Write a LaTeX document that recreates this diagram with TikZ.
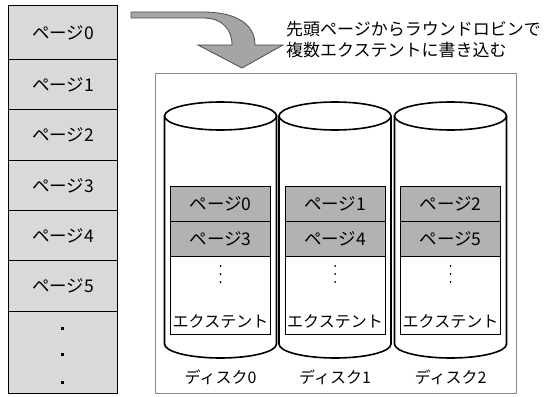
\documentclass[tikz,border=0pt]{standalone}
\usepackage{fontspec}
\setmainfont{Noto Sans CJK JP}
\begin{document}
\begin{tikzpicture}[x=1pt,y=-1pt,
  lbl/.style={font=\fontsize{16}{18}\selectfont, inner sep=0pt},
  captext/.style={font=\fontsize{17}{19}\selectfont, inner sep=0pt},
  pg/.style={lbl, font=\fontsize{17.5}{18}\selectfont},
  leftrow/.style={draw=black, line width=0.9pt, fill=leftgray, minimum width=109pt, inner sep=0pt, anchor=north west},
  extrow/.style={draw=black, line width=0.9pt, fill=extgray, minimum width=100pt, minimum height=35pt, inner sep=0pt, anchor=north},
  cyl/.style={draw=black, line width=1.6pt, fill=white},
  dotsq/.style={fill=black, minimum size=3pt, inner sep=0pt}
]
\definecolor{leftgray}{HTML}{D9D9D9}
\definecolor{extgray}{HTML}{B2B2B2}
\definecolor{arrgray}{HTML}{A5A5A5}
\definecolor{boxgray}{HTML}{8C8C8C}
\useasboundingbox (0,0) rectangle (545,396);

% left column
\node[leftrow, minimum height=54pt] (r0) at (8,5) {};
\node[leftrow, minimum height=50pt] (r1) at (8,59) {};
\node[leftrow, minimum height=51pt] (r2) at (8,109) {};
\node[leftrow, minimum height=50pt] (r3) at (8,160) {};
\node[leftrow, minimum height=50pt] (r4) at (8,210) {};
\node[leftrow, minimum height=51pt] (r5) at (8,260) {};
\node[leftrow, minimum height=82pt] (r6) at (8,311) {};
\node[pg] (t0) at (r0.center) {ページ0};
\node[pg] (t1) at (r1.center) {ページ1};
\node[pg] (t2) at (r2.center) {ページ2};
\node[pg] (t3) at (r3.center) {ページ3};
\node[pg] (t4) at (r4.center) {ページ4};
\node[pg] (t5) at (r5.center) {ページ5};
\node[dotsq] (d1) at (62,328) {};
\node[dotsq] (d2) at (62,354) {};
\node[dotsq] (d3) at (62,382) {};

% curved arrow
\draw[draw=black!70, line width=0.8pt, fill=arrgray]
  (131,12) -- (203,12) .. controls (236,12) and (255,24) .. (255,45)
  -- (283,45) -- (242,68) -- (198,45) -- (232,45)
  .. controls (232,29) and (222,18) .. (203,18) -- (131,18) -- cycle;

% caption
\node[captext, anchor=west] (cap1) at (286,29) {先頭ページからラウンドロビンで};
\node[captext, anchor=west] (cap2) at (286,50) {複数エクステントに書き込む};

% outer box
\node[draw=boxgray, line width=0.9pt, minimum width=361pt, minimum height=320pt, inner sep=0pt, anchor=north west] (frame) at (155,73) {};

% cylinders
\foreach \c/\n/\a/\b in {220.5/0/0/3, 335/1/1/4, 450.5/2/2/5}{
  \draw[cyl] (\c-56,116) -- (\c-56,344) arc[start angle=180, end angle=0, x radius=56, y radius=14] -- (\c+56,116);
  \draw[cyl] (\c,116) ellipse[x radius=56, y radius=14];
  \node[draw=black, line width=0.9pt, fill=white, minimum width=100pt, minimum height=148pt, inner sep=0pt, anchor=north] (ext\n) at (\c,186) {};
  \node[extrow] (pa\n) at (\c,186) {};
  \node[extrow] (pb\n) at (\c,221) {};
  \node[pg] at (pa\n.center) {ページ\a};
  \node[pg] at (pb\n.center) {ページ\b};
  \fill (\c,266) circle[radius=1pt] (\c,274) circle[radius=1pt] (\c,282) circle[radius=1pt];
  \node[lbl] (en\n) at (\c,321) {エクステント};
  \node[lbl] (dk\n) at (\c,377) {ディスク\n};
}
\end{tikzpicture}
\end{document}
